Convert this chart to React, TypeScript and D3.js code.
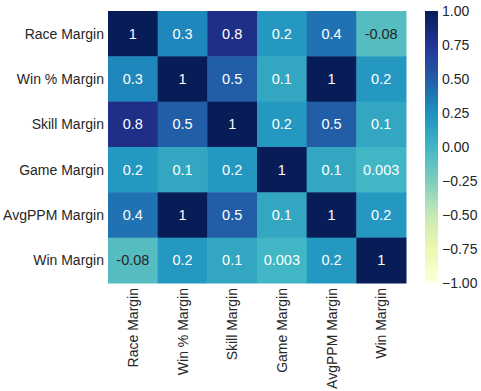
import React, { useEffect, useRef } from 'react';
import * as d3 from 'd3';

const labels = ['Race Margin', 'Win % Margin', 'Skill Margin', 'Game Margin', 'AvgPPM Margin', 'Win Margin'];

const row0 = [1, 0.3, 0.8, 0.2, 0.4, -0.08];
const row1 = [0.3, 1, 0.5, 0.1, 1, 0.2];
const row2 = [0.8, 0.5, 1, 0.2, 0.5, 0.1];
const row3 = [0.2, 0.1, 0.2, 1, 0.1, 0.003];
const row4 = [0.4, 1, 0.5, 0.1, 1, 0.2];
const row5 = [-0.08, 0.2, 0.1, 0.003, 0.2, 1];
const matrix = [row0, row1, row2, row3, row4, row5];

const cbTicks = [-1, -0.75, -0.5, -0.25, 0, 0.25, 0.5, 0.75, 1];

// matplotlib YlGnBu (linear between brewer stops)
const ylgnbu = ['#ffffd9', '#edf8b1', '#c7e9b4', '#7fcdbb', '#41b6c4', '#1d91c0', '#225ea8', '#253494', '#081d58'];

const FONT = 'Liberation Sans, Arial, sans-serif';
const TXT = '#262626';

const Heatmap: React.FC = () => {
  const svgRef = useRef<SVGSVGElement>(null);

  useEffect(() => {
    const svg = d3.select(svgRef.current);
    svg.selectAll('*').remove();

    const left = 108, right = 406, top = 11, bottom = 283;
    const color = d3
      .scaleLinear<string>()
      .domain(d3.range(9).map((i) => -1 + (2 * i) / 8))
      .range(ylgnbu)
      .interpolate(d3.interpolateRgb);

    const x = d3.scaleBand().domain(labels).range([left, right]);
    const y = d3.scaleBand().domain(labels).range([top, bottom]);
    const fmt = (v: number) => d3.format('.1g')(v).replace('−', '-');

    const lum = (c: string) => {
      const rgb = d3.rgb(c);
      const f = (v: number) => {
        v /= 255;
        return v <= 0.03928 ? v / 12.92 : Math.pow((v + 0.055) / 1.055, 2.4);
      };
      return 0.2126 * f(rgb.r) + 0.7152 * f(rgb.g) + 0.0722 * f(rgb.b);
    };

    const cells = matrix.flatMap((row, i) => row.map((v, j) => ({ i, j, v })));

    svg
      .append('g')
      .selectAll('rect')
      .data(cells)
      .join('rect')
      .attr('x', (d) => x(labels[d.j])!)
      .attr('y', (d) => y(labels[d.i])!)
      .attr('width', x.bandwidth() + 0.5)
      .attr('height', y.bandwidth() + 0.5)
      .attr('fill', (d) => color(d.v));

    svg
      .append('g')
      .selectAll('text')
      .data(cells)
      .join('text')
      .attr('x', (d) => x(labels[d.j])! + x.bandwidth() / 2)
      .attr('y', (d) => y(labels[d.i])! + y.bandwidth() / 2)
      .attr('text-anchor', 'middle')
      .attr('dominant-baseline', 'central')
      .attr('font-family', FONT)
      .attr('font-size', 14.5)
      .attr('fill', (d) => (lum(color(d.v)) > 0.408 ? TXT : '#ffffff'))
      .text((d) => fmt(d.v));

    // y tick labels
    svg
      .append('g')
      .selectAll('text')
      .data(labels)
      .join('text')
      .attr('x', left - 4)
      .attr('y', (d) => y(d)! + y.bandwidth() / 2)
      .attr('text-anchor', 'end')
      .attr('dominant-baseline', 'central')
      .attr('font-family', FONT)
      .attr('font-size', 14)
      .attr('fill', TXT)
      .text((d) => d);

    // x tick labels (rotated)
    svg
      .append('g')
      .selectAll('text')
      .data(labels)
      .join('text')
      .attr('transform', (d) => `translate(${x(d)! + x.bandwidth() / 2},${bottom + 5}) rotate(-90)`)
      .attr('text-anchor', 'end')
      .attr('dominant-baseline', 'central')
      .attr('font-family', FONT)
      .attr('font-size', 14)
      .attr('fill', TXT)
      .text((d) => d);

    // colorbar
    const cbX = 425, cbW = 13;
    const cbY = d3.scaleLinear().domain([-1, 1]).range([bottom, top]);
    const grad = svg
      .append('defs')
      .append('linearGradient')
      .attr('id', 'cb-grad')
      .attr('x1', '0%')
      .attr('y1', '100%')
      .attr('x2', '0%')
      .attr('y2', '0%');
    ylgnbu.forEach((c, i) => {
      grad.append('stop').attr('offset', `${(i / 8) * 100}%`).attr('stop-color', c);
    });
    svg
      .append('rect')
      .attr('x', cbX)
      .attr('y', top)
      .attr('width', cbW)
      .attr('height', bottom - top)
      .attr('fill', 'url(#cb-grad)');

    svg
      .append('g')
      .selectAll('text')
      .data(cbTicks)
      .join('text')
      .attr('x', cbX + cbW + 4)
      .attr('y', (d) => cbY(d))
      .attr('dominant-baseline', 'central')
      .attr('font-family', FONT)
      .attr('font-size', 14)
      .attr('fill', TXT)
      .text((d) => d3.format('.2f')(d).replace('-', '−'));
  }, []);

  return (
    <svg
      ref={svgRef}
      width={481}
      height={391}
      style={{ position: 'absolute', left: 0, top: 0, background: '#ffffff' }}
    />
  );
};

export default Heatmap;
